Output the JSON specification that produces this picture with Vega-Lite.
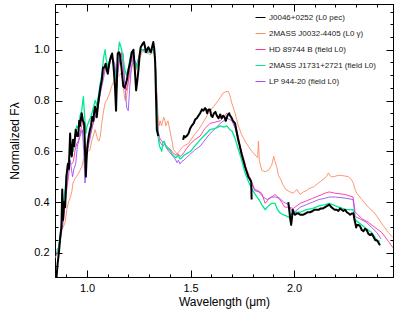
{
"$schema":"https://vega.github.io/schema/vega-lite/v6.json",
"width":338,"height":273,"autosize":"none",
"padding":{"left":55,"top":4,"right":6,"bottom":42},
"config":{"font":"Liberation Sans","view":{"stroke":"black","strokeWidth":1},"axis":{"grid":false,"domainColor":"black","tickColor":"black","labelColor":"black","titleColor":"black","titleFontWeight":"normal","labelFontSize":11,"titleFontSize":12},"legend":{"symbolStrokeWidth":1}},
"datasets":{"spec":[
{"s":"2MASS J0032-4405 (L0 γ)","seg":1,"w":0.845,"f":0.18},{"s":"2MASS J0032-4405 (L0 γ)","seg":1,"w":0.852,"f":0.19},{"s":"2MASS J0032-4405 (L0 γ)","seg":1,"w":0.86,"f":0.21},{"s":"2MASS J0032-4405 (L0 γ)","seg":1,"w":0.868,"f":0.25},{"s":"2MASS J0032-4405 (L0 γ)","seg":1,"w":0.876,"f":0.29},{"s":"2MASS J0032-4405 (L0 γ)","seg":1,"w":0.884,"f":0.3},{"s":"2MASS J0032-4405 (L0 γ)","seg":1,"w":0.894,"f":0.32},{"s":"2MASS J0032-4405 (L0 γ)","seg":1,"w":0.902,"f":0.37},{"s":"2MASS J0032-4405 (L0 γ)","seg":1,"w":0.91,"f":0.4},{"s":"2MASS J0032-4405 (L0 γ)","seg":1,"w":0.918,"f":0.415},{"s":"2MASS J0032-4405 (L0 γ)","seg":1,"w":0.926,"f":0.44},{"s":"2MASS J0032-4405 (L0 γ)","seg":1,"w":0.932,"f":0.475},{"s":"2MASS J0032-4405 (L0 γ)","seg":1,"w":0.94,"f":0.49},{"s":"2MASS J0032-4405 (L0 γ)","seg":1,"w":0.948,"f":0.5},{"s":"2MASS J0032-4405 (L0 γ)","seg":1,"w":0.957,"f":0.51},{"s":"2MASS J0032-4405 (L0 γ)","seg":1,"w":0.966,"f":0.525},{"s":"2MASS J0032-4405 (L0 γ)","seg":1,"w":0.975,"f":0.54},{"s":"2MASS J0032-4405 (L0 γ)","seg":1,"w":0.982,"f":0.565},{"s":"2MASS J0032-4405 (L0 γ)","seg":1,"w":0.99,"f":0.58},{"s":"2MASS J0032-4405 (L0 γ)","seg":1,"w":0.998,"f":0.595},{"s":"2MASS J0032-4405 (L0 γ)","seg":1,"w":1.006,"f":0.6},{"s":"2MASS J0032-4405 (L0 γ)","seg":1,"w":1.014,"f":0.605},{"s":"2MASS J0032-4405 (L0 γ)","seg":1,"w":1.022,"f":0.64},{"s":"2MASS J0032-4405 (L0 γ)","seg":1,"w":1.03,"f":0.66},{"s":"2MASS J0032-4405 (L0 γ)","seg":1,"w":1.039,"f":0.685},{"s":"2MASS J0032-4405 (L0 γ)","seg":1,"w":1.047,"f":0.66},{"s":"2MASS J0032-4405 (L0 γ)","seg":1,"w":1.053,"f":0.645},{"s":"2MASS J0032-4405 (L0 γ)","seg":1,"w":1.058,"f":0.64},{"s":"2MASS J0032-4405 (L0 γ)","seg":1,"w":1.064,"f":0.66},{"s":"2MASS J0032-4405 (L0 γ)","seg":1,"w":1.071,"f":0.71},{"s":"2MASS J0032-4405 (L0 γ)","seg":1,"w":1.08,"f":0.76},{"s":"2MASS J0032-4405 (L0 γ)","seg":1,"w":1.087,"f":0.79},{"s":"2MASS J0032-4405 (L0 γ)","seg":1,"w":1.095,"f":0.8},{"s":"2MASS J0032-4405 (L0 γ)","seg":1,"w":1.102,"f":0.815},{"s":"2MASS J0032-4405 (L0 γ)","seg":1,"w":1.11,"f":0.83},{"s":"2MASS J0032-4405 (L0 γ)","seg":1,"w":1.118,"f":0.855},{"s":"2MASS J0032-4405 (L0 γ)","seg":1,"w":1.126,"f":0.87},{"s":"2MASS J0032-4405 (L0 γ)","seg":1,"w":1.134,"f":0.88},{"s":"2MASS J0032-4405 (L0 γ)","seg":1,"w":1.142,"f":0.885},{"s":"2MASS J0032-4405 (L0 γ)","seg":1,"w":1.15,"f":0.895},{"s":"2MASS J0032-4405 (L0 γ)","seg":1,"w":1.158,"f":0.9},{"s":"2MASS J0032-4405 (L0 γ)","seg":1,"w":1.166,"f":0.91},{"s":"2MASS J0032-4405 (L0 γ)","seg":1,"w":1.172,"f":0.88},{"s":"2MASS J0032-4405 (L0 γ)","seg":1,"w":1.178,"f":0.83},{"s":"2MASS J0032-4405 (L0 γ)","seg":1,"w":1.184,"f":0.8},{"s":"2MASS J0032-4405 (L0 γ)","seg":1,"w":1.19,"f":0.81},{"s":"2MASS J0032-4405 (L0 γ)","seg":1,"w":1.198,"f":0.86},{"s":"2MASS J0032-4405 (L0 γ)","seg":1,"w":1.206,"f":0.9},{"s":"2MASS J0032-4405 (L0 γ)","seg":1,"w":1.214,"f":0.92},{"s":"2MASS J0032-4405 (L0 γ)","seg":1,"w":1.222,"f":0.95},{"s":"2MASS J0032-4405 (L0 γ)","seg":1,"w":1.23,"f":0.94},{"s":"2MASS J0032-4405 (L0 γ)","seg":1,"w":1.238,"f":0.92},{"s":"2MASS J0032-4405 (L0 γ)","seg":1,"w":1.246,"f":0.95},{"s":"2MASS J0032-4405 (L0 γ)","seg":1,"w":1.256,"f":0.97},{"s":"2MASS J0032-4405 (L0 γ)","seg":1,"w":1.266,"f":0.99},{"s":"2MASS J0032-4405 (L0 γ)","seg":1,"w":1.276,"f":0.995},{"s":"2MASS J0032-4405 (L0 γ)","seg":1,"w":1.286,"f":0.99},{"s":"2MASS J0032-4405 (L0 γ)","seg":1,"w":1.296,"f":0.985},{"s":"2MASS J0032-4405 (L0 γ)","seg":1,"w":1.306,"f":0.98},{"s":"2MASS J0032-4405 (L0 γ)","seg":1,"w":1.316,"f":0.99},{"s":"2MASS J0032-4405 (L0 γ)","seg":1,"w":1.324,"f":0.985},{"s":"2MASS J0032-4405 (L0 γ)","seg":1,"w":1.33,"f":0.95},{"s":"2MASS J0032-4405 (L0 γ)","seg":1,"w":1.336,"f":0.85},{"s":"2MASS J0032-4405 (L0 γ)","seg":1,"w":1.342,"f":0.75},{"s":"2MASS J0032-4405 (L0 γ)","seg":1,"w":1.348,"f":0.7},{"s":"2MASS J0032-4405 (L0 γ)","seg":1,"w":1.353,"f":0.72},{"s":"2MASS J0032-4405 (L0 γ)","seg":1,"w":1.36,"f":0.7},{"s":"2MASS J0032-4405 (L0 γ)","seg":1,"w":1.366,"f":0.72},{"s":"2MASS J0032-4405 (L0 γ)","seg":1,"w":1.37,"f":0.735},{"s":"2MASS J0032-4405 (L0 γ)","seg":1,"w":1.376,"f":0.72},{"s":"2MASS J0032-4405 (L0 γ)","seg":1,"w":1.381,"f":0.7},{"s":"2MASS J0032-4405 (L0 γ)","seg":1,"w":1.385,"f":0.71},{"s":"2MASS J0032-4405 (L0 γ)","seg":1,"w":1.391,"f":0.72},{"s":"2MASS J0032-4405 (L0 γ)","seg":1,"w":1.398,"f":0.69},{"s":"2MASS J0032-4405 (L0 γ)","seg":1,"w":1.405,"f":0.66},{"s":"2MASS J0032-4405 (L0 γ)","seg":1,"w":1.412,"f":0.635},{"s":"2MASS J0032-4405 (L0 γ)","seg":1,"w":1.417,"f":0.605},{"s":"2MASS J0032-4405 (L0 γ)","seg":1,"w":1.425,"f":0.6},{"s":"2MASS J0032-4405 (L0 γ)","seg":1,"w":1.433,"f":0.59},{"s":"2MASS J0032-4405 (L0 γ)","seg":1,"w":1.441,"f":0.595},{"s":"2MASS J0032-4405 (L0 γ)","seg":1,"w":1.449,"f":0.605},{"s":"2MASS J0032-4405 (L0 γ)","seg":1,"w":1.465,"f":0.62},{"s":"2MASS J0032-4405 (L0 γ)","seg":1,"w":1.489,"f":0.63},{"s":"2MASS J0032-4405 (L0 γ)","seg":1,"w":1.514,"f":0.66},{"s":"2MASS J0032-4405 (L0 γ)","seg":1,"w":1.538,"f":0.685},{"s":"2MASS J0032-4405 (L0 γ)","seg":1,"w":1.562,"f":0.715},{"s":"2MASS J0032-4405 (L0 γ)","seg":1,"w":1.586,"f":0.75},{"s":"2MASS J0032-4405 (L0 γ)","seg":1,"w":1.61,"f":0.775},{"s":"2MASS J0032-4405 (L0 γ)","seg":1,"w":1.634,"f":0.8},{"s":"2MASS J0032-4405 (L0 γ)","seg":1,"w":1.658,"f":0.83},{"s":"2MASS J0032-4405 (L0 γ)","seg":1,"w":1.67,"f":0.835},{"s":"2MASS J0032-4405 (L0 γ)","seg":1,"w":1.683,"f":0.835},{"s":"2MASS J0032-4405 (L0 γ)","seg":1,"w":1.69,"f":0.82},{"s":"2MASS J0032-4405 (L0 γ)","seg":1,"w":1.699,"f":0.79},{"s":"2MASS J0032-4405 (L0 γ)","seg":1,"w":1.715,"f":0.75},{"s":"2MASS J0032-4405 (L0 γ)","seg":1,"w":1.731,"f":0.7},{"s":"2MASS J0032-4405 (L0 γ)","seg":1,"w":1.747,"f":0.665},{"s":"2MASS J0032-4405 (L0 γ)","seg":1,"w":1.763,"f":0.64},{"s":"2MASS J0032-4405 (L0 γ)","seg":1,"w":1.779,"f":0.62},{"s":"2MASS J0032-4405 (L0 γ)","seg":1,"w":1.796,"f":0.6},{"s":"2MASS J0032-4405 (L0 γ)","seg":1,"w":1.812,"f":0.585},{"s":"2MASS J0032-4405 (L0 γ)","seg":1,"w":1.824,"f":0.575},{"s":"2MASS J0032-4405 (L0 γ)","seg":1,"w":1.828,"f":0.64},{"s":"2MASS J0032-4405 (L0 γ)","seg":1,"w":1.832,"f":0.565},{"s":"2MASS J0032-4405 (L0 γ)","seg":1,"w":1.844,"f":0.525},{"s":"2MASS J0032-4405 (L0 γ)","seg":1,"w":1.86,"f":0.52},{"s":"2MASS J0032-4405 (L0 γ)","seg":1,"w":1.876,"f":0.525},{"s":"2MASS J0032-4405 (L0 γ)","seg":1,"w":1.892,"f":0.545},{"s":"2MASS J0032-4405 (L0 γ)","seg":1,"w":1.902,"f":0.58},{"s":"2MASS J0032-4405 (L0 γ)","seg":1,"w":1.908,"f":0.56},{"s":"2MASS J0032-4405 (L0 γ)","seg":1,"w":1.916,"f":0.54},{"s":"2MASS J0032-4405 (L0 γ)","seg":1,"w":1.925,"f":0.505},{"s":"2MASS J0032-4405 (L0 γ)","seg":1,"w":1.935,"f":0.49},{"s":"2MASS J0032-4405 (L0 γ)","seg":1,"w":1.945,"f":0.47},{"s":"2MASS J0032-4405 (L0 γ)","seg":1,"w":1.96,"f":0.45},{"s":"2MASS J0032-4405 (L0 γ)","seg":1,"w":1.98,"f":0.44},{"s":"2MASS J0032-4405 (L0 γ)","seg":1,"w":1.997,"f":0.435},{"s":"2MASS J0032-4405 (L0 γ)","seg":1,"w":2.013,"f":0.45},{"s":"2MASS J0032-4405 (L0 γ)","seg":1,"w":2.029,"f":0.43},{"s":"2MASS J0032-4405 (L0 γ)","seg":1,"w":2.045,"f":0.44},{"s":"2MASS J0032-4405 (L0 γ)","seg":1,"w":2.06,"f":0.445},{"s":"2MASS J0032-4405 (L0 γ)","seg":1,"w":2.077,"f":0.455},{"s":"2MASS J0032-4405 (L0 γ)","seg":1,"w":2.094,"f":0.46},{"s":"2MASS J0032-4405 (L0 γ)","seg":1,"w":2.11,"f":0.47},{"s":"2MASS J0032-4405 (L0 γ)","seg":1,"w":2.126,"f":0.48},{"s":"2MASS J0032-4405 (L0 γ)","seg":1,"w":2.142,"f":0.49},{"s":"2MASS J0032-4405 (L0 γ)","seg":1,"w":2.156,"f":0.5},{"s":"2MASS J0032-4405 (L0 γ)","seg":1,"w":2.166,"f":0.515},{"s":"2MASS J0032-4405 (L0 γ)","seg":1,"w":2.178,"f":0.5},{"s":"2MASS J0032-4405 (L0 γ)","seg":1,"w":2.19,"f":0.5},{"s":"2MASS J0032-4405 (L0 γ)","seg":1,"w":2.214,"f":0.505},{"s":"2MASS J0032-4405 (L0 γ)","seg":1,"w":2.23,"f":0.505},{"s":"2MASS J0032-4405 (L0 γ)","seg":1,"w":2.262,"f":0.5},{"s":"2MASS J0032-4405 (L0 γ)","seg":1,"w":2.276,"f":0.49},{"s":"2MASS J0032-4405 (L0 γ)","seg":1,"w":2.286,"f":0.475},{"s":"2MASS J0032-4405 (L0 γ)","seg":1,"w":2.295,"f":0.45},{"s":"2MASS J0032-4405 (L0 γ)","seg":1,"w":2.303,"f":0.435},{"s":"2MASS J0032-4405 (L0 γ)","seg":1,"w":2.327,"f":0.41},{"s":"2MASS J0032-4405 (L0 γ)","seg":1,"w":2.359,"f":0.38},{"s":"2MASS J0032-4405 (L0 γ)","seg":1,"w":2.391,"f":0.355},{"s":"2MASS J0032-4405 (L0 γ)","seg":1,"w":2.424,"f":0.315},{"s":"2MASS J0032-4405 (L0 γ)","seg":1,"w":2.456,"f":0.28},{"s":"2MASS J0032-4405 (L0 γ)","seg":1,"w":2.478,"f":0.26},
{"s":"HD 89744 B (field L0)","seg":1,"w":0.852,"f":0.21},{"s":"HD 89744 B (field L0)","seg":1,"w":0.862,"f":0.22},{"s":"HD 89744 B (field L0)","seg":1,"w":0.87,"f":0.25},{"s":"HD 89744 B (field L0)","seg":1,"w":0.878,"f":0.29},{"s":"HD 89744 B (field L0)","seg":1,"w":0.886,"f":0.33},{"s":"HD 89744 B (field L0)","seg":1,"w":0.894,"f":0.4},{"s":"HD 89744 B (field L0)","seg":1,"w":0.902,"f":0.45},{"s":"HD 89744 B (field L0)","seg":1,"w":0.91,"f":0.5},{"s":"HD 89744 B (field L0)","seg":1,"w":0.918,"f":0.55},{"s":"HD 89744 B (field L0)","seg":1,"w":0.926,"f":0.55},{"s":"HD 89744 B (field L0)","seg":1,"w":0.934,"f":0.56},{"s":"HD 89744 B (field L0)","seg":1,"w":0.941,"f":0.6},{"s":"HD 89744 B (field L0)","seg":1,"w":0.95,"f":0.63},{"s":"HD 89744 B (field L0)","seg":1,"w":0.958,"f":0.64},{"s":"HD 89744 B (field L0)","seg":1,"w":0.966,"f":0.67},{"s":"HD 89744 B (field L0)","seg":1,"w":0.974,"f":0.7},{"s":"HD 89744 B (field L0)","seg":1,"w":0.982,"f":0.72},{"s":"HD 89744 B (field L0)","seg":1,"w":0.988,"f":0.66},{"s":"HD 89744 B (field L0)","seg":1,"w":0.994,"f":0.58},{"s":"HD 89744 B (field L0)","seg":1,"w":1.0,"f":0.62},{"s":"HD 89744 B (field L0)","seg":1,"w":1.01,"f":0.65},{"s":"HD 89744 B (field L0)","seg":1,"w":1.02,"f":0.68},{"s":"HD 89744 B (field L0)","seg":1,"w":1.03,"f":0.71},{"s":"HD 89744 B (field L0)","seg":1,"w":1.039,"f":0.74},{"s":"HD 89744 B (field L0)","seg":1,"w":1.047,"f":0.73},{"s":"HD 89744 B (field L0)","seg":1,"w":1.055,"f":0.78},{"s":"HD 89744 B (field L0)","seg":1,"w":1.064,"f":0.83},{"s":"HD 89744 B (field L0)","seg":1,"w":1.071,"f":0.87},{"s":"HD 89744 B (field L0)","seg":1,"w":1.08,"f":0.91},{"s":"HD 89744 B (field L0)","seg":1,"w":1.087,"f":0.93},{"s":"HD 89744 B (field L0)","seg":1,"w":1.095,"f":0.93},{"s":"HD 89744 B (field L0)","seg":1,"w":1.103,"f":0.92},{"s":"HD 89744 B (field L0)","seg":1,"w":1.11,"f":0.95},{"s":"HD 89744 B (field L0)","seg":1,"w":1.118,"f":0.97},{"s":"HD 89744 B (field L0)","seg":1,"w":1.126,"f":0.95},{"s":"HD 89744 B (field L0)","seg":1,"w":1.134,"f":0.92},{"s":"HD 89744 B (field L0)","seg":1,"w":1.142,"f":0.87},{"s":"HD 89744 B (field L0)","seg":1,"w":1.15,"f":0.92},{"s":"HD 89744 B (field L0)","seg":1,"w":1.158,"f":0.97},{"s":"HD 89744 B (field L0)","seg":1,"w":1.166,"f":0.99},{"s":"HD 89744 B (field L0)","seg":1,"w":1.172,"f":0.95},{"s":"HD 89744 B (field L0)","seg":1,"w":1.18,"f":0.88},{"s":"HD 89744 B (field L0)","seg":1,"w":1.19,"f":0.84},{"s":"HD 89744 B (field L0)","seg":1,"w":1.198,"f":0.87},{"s":"HD 89744 B (field L0)","seg":1,"w":1.206,"f":0.92},{"s":"HD 89744 B (field L0)","seg":1,"w":1.214,"f":0.96},{"s":"HD 89744 B (field L0)","seg":1,"w":1.222,"f":0.98},{"s":"HD 89744 B (field L0)","seg":1,"w":1.23,"f":0.95},{"s":"HD 89744 B (field L0)","seg":1,"w":1.24,"f":0.94},{"s":"HD 89744 B (field L0)","seg":1,"w":1.25,"f":0.97},{"s":"HD 89744 B (field L0)","seg":1,"w":1.26,"f":0.99},{"s":"HD 89744 B (field L0)","seg":1,"w":1.27,"f":1.0},{"s":"HD 89744 B (field L0)","seg":1,"w":1.28,"f":1.0},{"s":"HD 89744 B (field L0)","seg":1,"w":1.29,"f":0.99},{"s":"HD 89744 B (field L0)","seg":1,"w":1.3,"f":0.995},{"s":"HD 89744 B (field L0)","seg":1,"w":1.31,"f":1.0},{"s":"HD 89744 B (field L0)","seg":1,"w":1.32,"f":1.0},{"s":"HD 89744 B (field L0)","seg":1,"w":1.326,"f":0.985},{"s":"HD 89744 B (field L0)","seg":1,"w":1.331,"f":0.93},{"s":"HD 89744 B (field L0)","seg":1,"w":1.336,"f":0.82},{"s":"HD 89744 B (field L0)","seg":1,"w":1.34,"f":0.73},{"s":"HD 89744 B (field L0)","seg":1,"w":1.343,"f":0.68},{"s":"HD 89744 B (field L0)","seg":1,"w":1.35,"f":0.655},{"s":"HD 89744 B (field L0)","seg":1,"w":1.36,"f":0.64},{"s":"HD 89744 B (field L0)","seg":1,"w":1.37,"f":0.635},{"s":"HD 89744 B (field L0)","seg":1,"w":1.38,"f":0.625},{"s":"HD 89744 B (field L0)","seg":1,"w":1.39,"f":0.615},{"s":"HD 89744 B (field L0)","seg":1,"w":1.4,"f":0.61},{"s":"HD 89744 B (field L0)","seg":1,"w":1.41,"f":0.6},{"s":"HD 89744 B (field L0)","seg":1,"w":1.42,"f":0.59},{"s":"HD 89744 B (field L0)","seg":1,"w":1.43,"f":0.585},{"s":"HD 89744 B (field L0)","seg":1,"w":1.44,"f":0.59},{"s":"HD 89744 B (field L0)","seg":1,"w":1.449,"f":0.58},{"s":"HD 89744 B (field L0)","seg":1,"w":1.458,"f":0.585},{"s":"HD 89744 B (field L0)","seg":1,"w":1.468,"f":0.595},{"s":"HD 89744 B (field L0)","seg":1,"w":1.48,"f":0.61},{"s":"HD 89744 B (field L0)","seg":1,"w":1.5,"f":0.63},{"s":"HD 89744 B (field L0)","seg":1,"w":1.52,"f":0.645},{"s":"HD 89744 B (field L0)","seg":1,"w":1.546,"f":0.66},{"s":"HD 89744 B (field L0)","seg":1,"w":1.57,"f":0.69},{"s":"HD 89744 B (field L0)","seg":1,"w":1.594,"f":0.71},{"s":"HD 89744 B (field L0)","seg":1,"w":1.62,"f":0.715},{"s":"HD 89744 B (field L0)","seg":1,"w":1.643,"f":0.72},{"s":"HD 89744 B (field L0)","seg":1,"w":1.66,"f":0.735},{"s":"HD 89744 B (field L0)","seg":1,"w":1.675,"f":0.75},{"s":"HD 89744 B (field L0)","seg":1,"w":1.69,"f":0.74},{"s":"HD 89744 B (field L0)","seg":1,"w":1.7,"f":0.73},{"s":"HD 89744 B (field L0)","seg":1,"w":1.715,"f":0.7},{"s":"HD 89744 B (field L0)","seg":1,"w":1.73,"f":0.66},{"s":"HD 89744 B (field L0)","seg":1,"w":1.74,"f":0.62},{"s":"HD 89744 B (field L0)","seg":1,"w":1.755,"f":0.575},{"s":"HD 89744 B (field L0)","seg":1,"w":1.77,"f":0.53},{"s":"HD 89744 B (field L0)","seg":1,"w":1.785,"f":0.5},{"s":"HD 89744 B (field L0)","seg":1,"w":1.797,"f":0.475},{"s":"HD 89744 B (field L0)","seg":1,"w":1.81,"f":0.45},{"s":"HD 89744 B (field L0)","seg":1,"w":1.825,"f":0.445},{"s":"HD 89744 B (field L0)","seg":1,"w":1.844,"f":0.435},{"s":"HD 89744 B (field L0)","seg":1,"w":1.86,"f":0.395},{"s":"HD 89744 B (field L0)","seg":1,"w":1.876,"f":0.41},{"s":"HD 89744 B (field L0)","seg":1,"w":1.892,"f":0.42},{"s":"HD 89744 B (field L0)","seg":1,"w":1.908,"f":0.43},{"s":"HD 89744 B (field L0)","seg":1,"w":1.922,"f":0.42},{"s":"HD 89744 B (field L0)","seg":1,"w":1.94,"f":0.4},{"s":"HD 89744 B (field L0)","seg":1,"w":1.955,"f":0.38},{"s":"HD 89744 B (field L0)","seg":1,"w":1.972,"f":0.38},{"s":"HD 89744 B (field L0)","seg":1,"w":1.997,"f":0.375},{"s":"HD 89744 B (field L0)","seg":1,"w":2.029,"f":0.395},{"s":"HD 89744 B (field L0)","seg":1,"w":2.06,"f":0.405},{"s":"HD 89744 B (field L0)","seg":1,"w":2.09,"f":0.415},{"s":"HD 89744 B (field L0)","seg":1,"w":2.12,"f":0.425},{"s":"HD 89744 B (field L0)","seg":1,"w":2.15,"f":0.435},{"s":"HD 89744 B (field L0)","seg":1,"w":2.17,"f":0.44},{"s":"HD 89744 B (field L0)","seg":1,"w":2.198,"f":0.435},{"s":"HD 89744 B (field L0)","seg":1,"w":2.246,"f":0.43},{"s":"HD 89744 B (field L0)","seg":1,"w":2.285,"f":0.42},{"s":"HD 89744 B (field L0)","seg":1,"w":2.295,"f":0.36},{"s":"HD 89744 B (field L0)","seg":1,"w":2.303,"f":0.355},{"s":"HD 89744 B (field L0)","seg":1,"w":2.327,"f":0.335},{"s":"HD 89744 B (field L0)","seg":1,"w":2.359,"f":0.32},{"s":"HD 89744 B (field L0)","seg":1,"w":2.391,"f":0.3},{"s":"HD 89744 B (field L0)","seg":1,"w":2.424,"f":0.28},{"s":"HD 89744 B (field L0)","seg":1,"w":2.456,"f":0.245},{"s":"HD 89744 B (field L0)","seg":1,"w":2.478,"f":0.22},
{"s":"LP 944-20 (field L0)","seg":1,"w":0.852,"f":0.19},{"s":"LP 944-20 (field L0)","seg":1,"w":0.862,"f":0.22},{"s":"LP 944-20 (field L0)","seg":1,"w":0.87,"f":0.24},{"s":"LP 944-20 (field L0)","seg":1,"w":0.878,"f":0.3},{"s":"LP 944-20 (field L0)","seg":1,"w":0.886,"f":0.34},{"s":"LP 944-20 (field L0)","seg":1,"w":0.894,"f":0.42},{"s":"LP 944-20 (field L0)","seg":1,"w":0.902,"f":0.47},{"s":"LP 944-20 (field L0)","seg":1,"w":0.91,"f":0.53},{"s":"LP 944-20 (field L0)","seg":1,"w":0.918,"f":0.565},{"s":"LP 944-20 (field L0)","seg":1,"w":0.926,"f":0.52},{"s":"LP 944-20 (field L0)","seg":1,"w":0.93,"f":0.5},{"s":"LP 944-20 (field L0)","seg":1,"w":0.936,"f":0.53},{"s":"LP 944-20 (field L0)","seg":1,"w":0.945,"f":0.55},{"s":"LP 944-20 (field L0)","seg":1,"w":0.953,"f":0.62},{"s":"LP 944-20 (field L0)","seg":1,"w":0.966,"f":0.66},{"s":"LP 944-20 (field L0)","seg":1,"w":0.977,"f":0.685},{"s":"LP 944-20 (field L0)","seg":1,"w":0.984,"f":0.6},{"s":"LP 944-20 (field L0)","seg":1,"w":0.99,"f":0.475},{"s":"LP 944-20 (field L0)","seg":1,"w":0.996,"f":0.55},{"s":"LP 944-20 (field L0)","seg":1,"w":1.003,"f":0.61},{"s":"LP 944-20 (field L0)","seg":1,"w":1.012,"f":0.64},{"s":"LP 944-20 (field L0)","seg":1,"w":1.025,"f":0.7},{"s":"LP 944-20 (field L0)","seg":1,"w":1.039,"f":0.735},{"s":"LP 944-20 (field L0)","seg":1,"w":1.047,"f":0.75},{"s":"LP 944-20 (field L0)","seg":1,"w":1.055,"f":0.79},{"s":"LP 944-20 (field L0)","seg":1,"w":1.064,"f":0.83},{"s":"LP 944-20 (field L0)","seg":1,"w":1.071,"f":0.855},{"s":"LP 944-20 (field L0)","seg":1,"w":1.08,"f":0.89},{"s":"LP 944-20 (field L0)","seg":1,"w":1.087,"f":0.92},{"s":"LP 944-20 (field L0)","seg":1,"w":1.095,"f":0.935},{"s":"LP 944-20 (field L0)","seg":1,"w":1.103,"f":0.945},{"s":"LP 944-20 (field L0)","seg":1,"w":1.11,"f":0.96},{"s":"LP 944-20 (field L0)","seg":1,"w":1.118,"f":0.975},{"s":"LP 944-20 (field L0)","seg":1,"w":1.126,"f":0.96},{"s":"LP 944-20 (field L0)","seg":1,"w":1.134,"f":0.945},{"s":"LP 944-20 (field L0)","seg":1,"w":1.14,"f":0.9},{"s":"LP 944-20 (field L0)","seg":1,"w":1.144,"f":0.85},{"s":"LP 944-20 (field L0)","seg":1,"w":1.15,"f":0.93},{"s":"LP 944-20 (field L0)","seg":1,"w":1.158,"f":0.96},{"s":"LP 944-20 (field L0)","seg":1,"w":1.166,"f":0.975},{"s":"LP 944-20 (field L0)","seg":1,"w":1.174,"f":0.985},{"s":"LP 944-20 (field L0)","seg":1,"w":1.18,"f":0.9},{"s":"LP 944-20 (field L0)","seg":1,"w":1.186,"f":0.82},{"s":"LP 944-20 (field L0)","seg":1,"w":1.192,"f":0.77},{"s":"LP 944-20 (field L0)","seg":1,"w":1.199,"f":0.76},{"s":"LP 944-20 (field L0)","seg":1,"w":1.206,"f":0.85},{"s":"LP 944-20 (field L0)","seg":1,"w":1.214,"f":0.93},{"s":"LP 944-20 (field L0)","seg":1,"w":1.222,"f":0.97},{"s":"LP 944-20 (field L0)","seg":1,"w":1.23,"f":0.96},{"s":"LP 944-20 (field L0)","seg":1,"w":1.24,"f":0.94},{"s":"LP 944-20 (field L0)","seg":1,"w":1.25,"f":0.97},{"s":"LP 944-20 (field L0)","seg":1,"w":1.26,"f":1.0},{"s":"LP 944-20 (field L0)","seg":1,"w":1.27,"f":1.0},{"s":"LP 944-20 (field L0)","seg":1,"w":1.28,"f":1.0},{"s":"LP 944-20 (field L0)","seg":1,"w":1.29,"f":0.995},{"s":"LP 944-20 (field L0)","seg":1,"w":1.3,"f":0.99},{"s":"LP 944-20 (field L0)","seg":1,"w":1.31,"f":1.0},{"s":"LP 944-20 (field L0)","seg":1,"w":1.32,"f":1.0},{"s":"LP 944-20 (field L0)","seg":1,"w":1.326,"f":0.985},{"s":"LP 944-20 (field L0)","seg":1,"w":1.331,"f":0.93},{"s":"LP 944-20 (field L0)","seg":1,"w":1.336,"f":0.82},{"s":"LP 944-20 (field L0)","seg":1,"w":1.34,"f":0.73},{"s":"LP 944-20 (field L0)","seg":1,"w":1.343,"f":0.68},{"s":"LP 944-20 (field L0)","seg":1,"w":1.35,"f":0.64},{"s":"LP 944-20 (field L0)","seg":1,"w":1.358,"f":0.63},{"s":"LP 944-20 (field L0)","seg":1,"w":1.366,"f":0.62},{"s":"LP 944-20 (field L0)","seg":1,"w":1.375,"f":0.63},{"s":"LP 944-20 (field L0)","seg":1,"w":1.385,"f":0.61},{"s":"LP 944-20 (field L0)","seg":1,"w":1.395,"f":0.6},{"s":"LP 944-20 (field L0)","seg":1,"w":1.405,"f":0.59},{"s":"LP 944-20 (field L0)","seg":1,"w":1.415,"f":0.58},{"s":"LP 944-20 (field L0)","seg":1,"w":1.425,"f":0.57},{"s":"LP 944-20 (field L0)","seg":1,"w":1.435,"f":0.555},{"s":"LP 944-20 (field L0)","seg":1,"w":1.441,"f":0.565},{"s":"LP 944-20 (field L0)","seg":1,"w":1.449,"f":0.55},{"s":"LP 944-20 (field L0)","seg":1,"w":1.458,"f":0.56},{"s":"LP 944-20 (field L0)","seg":1,"w":1.468,"f":0.565},{"s":"LP 944-20 (field L0)","seg":1,"w":1.48,"f":0.575},{"s":"LP 944-20 (field L0)","seg":1,"w":1.5,"f":0.59},{"s":"LP 944-20 (field L0)","seg":1,"w":1.52,"f":0.605},{"s":"LP 944-20 (field L0)","seg":1,"w":1.546,"f":0.62},{"s":"LP 944-20 (field L0)","seg":1,"w":1.57,"f":0.645},{"s":"LP 944-20 (field L0)","seg":1,"w":1.594,"f":0.67},{"s":"LP 944-20 (field L0)","seg":1,"w":1.62,"f":0.69},{"s":"LP 944-20 (field L0)","seg":1,"w":1.643,"f":0.71},{"s":"LP 944-20 (field L0)","seg":1,"w":1.66,"f":0.72},{"s":"LP 944-20 (field L0)","seg":1,"w":1.675,"f":0.73},{"s":"LP 944-20 (field L0)","seg":1,"w":1.69,"f":0.725},{"s":"LP 944-20 (field L0)","seg":1,"w":1.7,"f":0.72},{"s":"LP 944-20 (field L0)","seg":1,"w":1.715,"f":0.69},{"s":"LP 944-20 (field L0)","seg":1,"w":1.73,"f":0.65},{"s":"LP 944-20 (field L0)","seg":1,"w":1.74,"f":0.61},{"s":"LP 944-20 (field L0)","seg":1,"w":1.755,"f":0.565},{"s":"LP 944-20 (field L0)","seg":1,"w":1.77,"f":0.52},{"s":"LP 944-20 (field L0)","seg":1,"w":1.785,"f":0.49},{"s":"LP 944-20 (field L0)","seg":1,"w":1.797,"f":0.47},{"s":"LP 944-20 (field L0)","seg":1,"w":1.81,"f":0.445},{"s":"LP 944-20 (field L0)","seg":1,"w":1.83,"f":0.44},{"s":"LP 944-20 (field L0)","seg":1,"w":1.85,"f":0.42},{"s":"LP 944-20 (field L0)","seg":1,"w":1.87,"f":0.41},{"s":"LP 944-20 (field L0)","seg":1,"w":1.89,"f":0.42},{"s":"LP 944-20 (field L0)","seg":1,"w":1.91,"f":0.42},{"s":"LP 944-20 (field L0)","seg":1,"w":1.93,"f":0.415},{"s":"LP 944-20 (field L0)","seg":1,"w":1.95,"f":0.4},{"s":"LP 944-20 (field L0)","seg":1,"w":1.972,"f":0.39},{"s":"LP 944-20 (field L0)","seg":1,"w":1.99,"f":0.365},{"s":"LP 944-20 (field L0)","seg":1,"w":2.0,"f":0.36},{"s":"LP 944-20 (field L0)","seg":1,"w":2.03,"f":0.38},{"s":"LP 944-20 (field L0)","seg":1,"w":2.06,"f":0.39},{"s":"LP 944-20 (field L0)","seg":1,"w":2.09,"f":0.4},{"s":"LP 944-20 (field L0)","seg":1,"w":2.12,"f":0.41},{"s":"LP 944-20 (field L0)","seg":1,"w":2.15,"f":0.415},{"s":"LP 944-20 (field L0)","seg":1,"w":2.17,"f":0.42},{"s":"LP 944-20 (field L0)","seg":1,"w":2.2,"f":0.42},{"s":"LP 944-20 (field L0)","seg":1,"w":2.25,"f":0.415},{"s":"LP 944-20 (field L0)","seg":1,"w":2.285,"f":0.41},{"s":"LP 944-20 (field L0)","seg":1,"w":2.295,"f":0.345},{"s":"LP 944-20 (field L0)","seg":1,"w":2.303,"f":0.34},{"s":"LP 944-20 (field L0)","seg":1,"w":2.327,"f":0.33},{"s":"LP 944-20 (field L0)","seg":1,"w":2.35,"f":0.32},{"s":"LP 944-20 (field L0)","seg":1,"w":2.375,"f":0.3},{"s":"LP 944-20 (field L0)","seg":1,"w":2.4,"f":0.28},{"s":"LP 944-20 (field L0)","seg":1,"w":2.42,"f":0.255},
{"s":"2MASS J1731+2721 (field L0)","seg":1,"w":0.852,"f":0.2},{"s":"2MASS J1731+2721 (field L0)","seg":1,"w":0.862,"f":0.22},{"s":"2MASS J1731+2721 (field L0)","seg":1,"w":0.87,"f":0.27},{"s":"2MASS J1731+2721 (field L0)","seg":1,"w":0.878,"f":0.33},{"s":"2MASS J1731+2721 (field L0)","seg":1,"w":0.886,"f":0.4},{"s":"2MASS J1731+2721 (field L0)","seg":1,"w":0.894,"f":0.45},{"s":"2MASS J1731+2721 (field L0)","seg":1,"w":0.902,"f":0.52},{"s":"2MASS J1731+2721 (field L0)","seg":1,"w":0.91,"f":0.56},{"s":"2MASS J1731+2721 (field L0)","seg":1,"w":0.918,"f":0.6},{"s":"2MASS J1731+2721 (field L0)","seg":1,"w":0.926,"f":0.62},{"s":"2MASS J1731+2721 (field L0)","seg":1,"w":0.934,"f":0.6},{"s":"2MASS J1731+2721 (field L0)","seg":1,"w":0.941,"f":0.66},{"s":"2MASS J1731+2721 (field L0)","seg":1,"w":0.95,"f":0.7},{"s":"2MASS J1731+2721 (field L0)","seg":1,"w":0.958,"f":0.69},{"s":"2MASS J1731+2721 (field L0)","seg":1,"w":0.966,"f":0.74},{"s":"2MASS J1731+2721 (field L0)","seg":1,"w":0.974,"f":0.76},{"s":"2MASS J1731+2721 (field L0)","seg":1,"w":0.982,"f":0.815},{"s":"2MASS J1731+2721 (field L0)","seg":1,"w":0.988,"f":0.74},{"s":"2MASS J1731+2721 (field L0)","seg":1,"w":0.994,"f":0.67},{"s":"2MASS J1731+2721 (field L0)","seg":1,"w":1.0,"f":0.7},{"s":"2MASS J1731+2721 (field L0)","seg":1,"w":1.01,"f":0.72},{"s":"2MASS J1731+2721 (field L0)","seg":1,"w":1.02,"f":0.74},{"s":"2MASS J1731+2721 (field L0)","seg":1,"w":1.03,"f":0.77},{"s":"2MASS J1731+2721 (field L0)","seg":1,"w":1.039,"f":0.8},{"s":"2MASS J1731+2721 (field L0)","seg":1,"w":1.047,"f":0.78},{"s":"2MASS J1731+2721 (field L0)","seg":1,"w":1.055,"f":0.82},{"s":"2MASS J1731+2721 (field L0)","seg":1,"w":1.064,"f":0.87},{"s":"2MASS J1731+2721 (field L0)","seg":1,"w":1.071,"f":0.9},{"s":"2MASS J1731+2721 (field L0)","seg":1,"w":1.08,"f":0.97},{"s":"2MASS J1731+2721 (field L0)","seg":1,"w":1.087,"f":1.0},{"s":"2MASS J1731+2721 (field L0)","seg":1,"w":1.093,"f":0.96},{"s":"2MASS J1731+2721 (field L0)","seg":1,"w":1.1,"f":0.93},{"s":"2MASS J1731+2721 (field L0)","seg":1,"w":1.11,"f":0.96},{"s":"2MASS J1731+2721 (field L0)","seg":1,"w":1.118,"f":0.98},{"s":"2MASS J1731+2721 (field L0)","seg":1,"w":1.126,"f":0.95},{"s":"2MASS J1731+2721 (field L0)","seg":1,"w":1.134,"f":0.91},{"s":"2MASS J1731+2721 (field L0)","seg":1,"w":1.142,"f":0.88},{"s":"2MASS J1731+2721 (field L0)","seg":1,"w":1.15,"f":0.98},{"s":"2MASS J1731+2721 (field L0)","seg":1,"w":1.156,"f":1.03},{"s":"2MASS J1731+2721 (field L0)","seg":1,"w":1.164,"f":1.01},{"s":"2MASS J1731+2721 (field L0)","seg":1,"w":1.172,"f":0.98},{"s":"2MASS J1731+2721 (field L0)","seg":1,"w":1.18,"f":0.93},{"s":"2MASS J1731+2721 (field L0)","seg":1,"w":1.19,"f":0.9},{"s":"2MASS J1731+2721 (field L0)","seg":1,"w":1.198,"f":0.92},{"s":"2MASS J1731+2721 (field L0)","seg":1,"w":1.206,"f":0.96},{"s":"2MASS J1731+2721 (field L0)","seg":1,"w":1.214,"f":0.99},{"s":"2MASS J1731+2721 (field L0)","seg":1,"w":1.222,"f":0.99},{"s":"2MASS J1731+2721 (field L0)","seg":1,"w":1.23,"f":0.95},{"s":"2MASS J1731+2721 (field L0)","seg":1,"w":1.24,"f":0.93},{"s":"2MASS J1731+2721 (field L0)","seg":1,"w":1.25,"f":0.97},{"s":"2MASS J1731+2721 (field L0)","seg":1,"w":1.26,"f":1.0},{"s":"2MASS J1731+2721 (field L0)","seg":1,"w":1.27,"f":1.0},{"s":"2MASS J1731+2721 (field L0)","seg":1,"w":1.28,"f":0.99},{"s":"2MASS J1731+2721 (field L0)","seg":1,"w":1.29,"f":1.0},{"s":"2MASS J1731+2721 (field L0)","seg":1,"w":1.3,"f":0.99},{"s":"2MASS J1731+2721 (field L0)","seg":1,"w":1.31,"f":0.995},{"s":"2MASS J1731+2721 (field L0)","seg":1,"w":1.32,"f":1.0},{"s":"2MASS J1731+2721 (field L0)","seg":1,"w":1.326,"f":0.98},{"s":"2MASS J1731+2721 (field L0)","seg":1,"w":1.331,"f":0.92},{"s":"2MASS J1731+2721 (field L0)","seg":1,"w":1.336,"f":0.8},{"s":"2MASS J1731+2721 (field L0)","seg":1,"w":1.34,"f":0.7},{"s":"2MASS J1731+2721 (field L0)","seg":1,"w":1.343,"f":0.66},{"s":"2MASS J1731+2721 (field L0)","seg":1,"w":1.35,"f":0.62},{"s":"2MASS J1731+2721 (field L0)","seg":1,"w":1.356,"f":0.61},{"s":"2MASS J1731+2721 (field L0)","seg":1,"w":1.361,"f":0.6},{"s":"2MASS J1731+2721 (field L0)","seg":1,"w":1.366,"f":0.635},{"s":"2MASS J1731+2721 (field L0)","seg":1,"w":1.372,"f":0.64},{"s":"2MASS J1731+2721 (field L0)","seg":1,"w":1.38,"f":0.62},{"s":"2MASS J1731+2721 (field L0)","seg":1,"w":1.39,"f":0.61},{"s":"2MASS J1731+2721 (field L0)","seg":1,"w":1.4,"f":0.605},{"s":"2MASS J1731+2721 (field L0)","seg":1,"w":1.41,"f":0.59},{"s":"2MASS J1731+2721 (field L0)","seg":1,"w":1.42,"f":0.58},{"s":"2MASS J1731+2721 (field L0)","seg":1,"w":1.43,"f":0.575},{"s":"2MASS J1731+2721 (field L0)","seg":1,"w":1.44,"f":0.585},{"s":"2MASS J1731+2721 (field L0)","seg":1,"w":1.449,"f":0.57},{"s":"2MASS J1731+2721 (field L0)","seg":1,"w":1.458,"f":0.575},{"s":"2MASS J1731+2721 (field L0)","seg":1,"w":1.468,"f":0.585},{"s":"2MASS J1731+2721 (field L0)","seg":1,"w":1.48,"f":0.59},{"s":"2MASS J1731+2721 (field L0)","seg":1,"w":1.5,"f":0.6},{"s":"2MASS J1731+2721 (field L0)","seg":1,"w":1.52,"f":0.62},{"s":"2MASS J1731+2721 (field L0)","seg":1,"w":1.546,"f":0.645},{"s":"2MASS J1731+2721 (field L0)","seg":1,"w":1.57,"f":0.665},{"s":"2MASS J1731+2721 (field L0)","seg":1,"w":1.594,"f":0.685},{"s":"2MASS J1731+2721 (field L0)","seg":1,"w":1.62,"f":0.69},{"s":"2MASS J1731+2721 (field L0)","seg":1,"w":1.643,"f":0.7},{"s":"2MASS J1731+2721 (field L0)","seg":1,"w":1.66,"f":0.695},{"s":"2MASS J1731+2721 (field L0)","seg":1,"w":1.675,"f":0.7},{"s":"2MASS J1731+2721 (field L0)","seg":1,"w":1.69,"f":0.685},{"s":"2MASS J1731+2721 (field L0)","seg":1,"w":1.7,"f":0.68},{"s":"2MASS J1731+2721 (field L0)","seg":1,"w":1.715,"f":0.65},{"s":"2MASS J1731+2721 (field L0)","seg":1,"w":1.73,"f":0.61},{"s":"2MASS J1731+2721 (field L0)","seg":1,"w":1.745,"f":0.57},{"s":"2MASS J1731+2721 (field L0)","seg":1,"w":1.763,"f":0.515},{"s":"2MASS J1731+2721 (field L0)","seg":1,"w":1.78,"f":0.48},{"s":"2MASS J1731+2721 (field L0)","seg":1,"w":1.797,"f":0.45},{"s":"2MASS J1731+2721 (field L0)","seg":1,"w":1.805,"f":0.44},{"s":"2MASS J1731+2721 (field L0)","seg":1,"w":1.812,"f":0.43},{"s":"2MASS J1731+2721 (field L0)","seg":1,"w":1.83,"f":0.41},{"s":"2MASS J1731+2721 (field L0)","seg":1,"w":1.844,"f":0.39},{"s":"2MASS J1731+2721 (field L0)","seg":1,"w":1.86,"f":0.37},{"s":"2MASS J1731+2721 (field L0)","seg":1,"w":1.876,"f":0.385},{"s":"2MASS J1731+2721 (field L0)","seg":1,"w":1.892,"f":0.395},{"s":"2MASS J1731+2721 (field L0)","seg":1,"w":1.908,"f":0.395},{"s":"2MASS J1731+2721 (field L0)","seg":1,"w":1.92,"f":0.37},{"s":"2MASS J1731+2721 (field L0)","seg":1,"w":1.935,"f":0.355},{"s":"2MASS J1731+2721 (field L0)","seg":1,"w":1.95,"f":0.35},{"s":"2MASS J1731+2721 (field L0)","seg":1,"w":1.965,"f":0.345},{"s":"2MASS J1731+2721 (field L0)","seg":1,"w":1.972,"f":0.34},{"s":"2MASS J1731+2721 (field L0)","seg":1,"w":1.99,"f":0.355},{"s":"2MASS J1731+2721 (field L0)","seg":1,"w":2.005,"f":0.36},{"s":"2MASS J1731+2721 (field L0)","seg":1,"w":2.03,"f":0.36},{"s":"2MASS J1731+2721 (field L0)","seg":1,"w":2.06,"f":0.37},{"s":"2MASS J1731+2721 (field L0)","seg":1,"w":2.09,"f":0.375},{"s":"2MASS J1731+2721 (field L0)","seg":1,"w":2.12,"f":0.385},{"s":"2MASS J1731+2721 (field L0)","seg":1,"w":2.15,"f":0.39},{"s":"2MASS J1731+2721 (field L0)","seg":1,"w":2.17,"f":0.395},{"s":"2MASS J1731+2721 (field L0)","seg":1,"w":2.2,"f":0.385},{"s":"2MASS J1731+2721 (field L0)","seg":1,"w":2.25,"f":0.37},{"s":"2MASS J1731+2721 (field L0)","seg":1,"w":2.285,"f":0.37},{"s":"2MASS J1731+2721 (field L0)","seg":1,"w":2.295,"f":0.33},{"s":"2MASS J1731+2721 (field L0)","seg":1,"w":2.303,"f":0.325},{"s":"2MASS J1731+2721 (field L0)","seg":1,"w":2.327,"f":0.31},{"s":"2MASS J1731+2721 (field L0)","seg":1,"w":2.35,"f":0.295},{"s":"2MASS J1731+2721 (field L0)","seg":1,"w":2.375,"f":0.28},{"s":"2MASS J1731+2721 (field L0)","seg":1,"w":2.4,"f":0.25},{"s":"2MASS J1731+2721 (field L0)","seg":1,"w":2.415,"f":0.245},
{"s":"J0046+0252 (L0 pec)","seg":1,"w":0.852,"f":0.1},{"s":"J0046+0252 (L0 pec)","seg":1,"w":0.858,"f":0.16},{"s":"J0046+0252 (L0 pec)","seg":1,"w":0.865,"f":0.21},{"s":"J0046+0252 (L0 pec)","seg":1,"w":0.87,"f":0.26},{"s":"J0046+0252 (L0 pec)","seg":1,"w":0.876,"f":0.3},{"s":"J0046+0252 (L0 pec)","seg":1,"w":0.88,"f":0.45},{"s":"J0046+0252 (L0 pec)","seg":1,"w":0.884,"f":0.33},{"s":"J0046+0252 (L0 pec)","seg":1,"w":0.889,"f":0.4},{"s":"J0046+0252 (L0 pec)","seg":1,"w":0.894,"f":0.38},{"s":"J0046+0252 (L0 pec)","seg":1,"w":0.9,"f":0.5},{"s":"J0046+0252 (L0 pec)","seg":1,"w":0.907,"f":0.55},{"s":"J0046+0252 (L0 pec)","seg":1,"w":0.912,"f":0.53},{"s":"J0046+0252 (L0 pec)","seg":1,"w":0.918,"f":0.67},{"s":"J0046+0252 (L0 pec)","seg":1,"w":0.922,"f":0.6},{"s":"J0046+0252 (L0 pec)","seg":1,"w":0.926,"f":0.58},{"s":"J0046+0252 (L0 pec)","seg":1,"w":0.932,"f":0.645},{"s":"J0046+0252 (L0 pec)","seg":1,"w":0.938,"f":0.62},{"s":"J0046+0252 (L0 pec)","seg":1,"w":0.945,"f":0.685},{"s":"J0046+0252 (L0 pec)","seg":1,"w":0.951,"f":0.66},{"s":"J0046+0252 (L0 pec)","seg":1,"w":0.957,"f":0.66},{"s":"J0046+0252 (L0 pec)","seg":1,"w":0.962,"f":0.72},{"s":"J0046+0252 (L0 pec)","seg":1,"w":0.966,"f":0.7},{"s":"J0046+0252 (L0 pec)","seg":1,"w":0.974,"f":0.75},{"s":"J0046+0252 (L0 pec)","seg":1,"w":0.98,"f":0.72},{"s":"J0046+0252 (L0 pec)","seg":1,"w":0.986,"f":0.71},{"s":"J0046+0252 (L0 pec)","seg":1,"w":0.99,"f":0.6},{"s":"J0046+0252 (L0 pec)","seg":1,"w":0.994,"f":0.5},{"s":"J0046+0252 (L0 pec)","seg":1,"w":0.998,"f":0.58},{"s":"J0046+0252 (L0 pec)","seg":1,"w":1.003,"f":0.63},{"s":"J0046+0252 (L0 pec)","seg":1,"w":1.008,"f":0.66},{"s":"J0046+0252 (L0 pec)","seg":1,"w":1.014,"f":0.685},{"s":"J0046+0252 (L0 pec)","seg":1,"w":1.019,"f":0.7},{"s":"J0046+0252 (L0 pec)","seg":1,"w":1.024,"f":0.735},{"s":"J0046+0252 (L0 pec)","seg":1,"w":1.03,"f":0.72},{"s":"J0046+0252 (L0 pec)","seg":1,"w":1.035,"f":0.76},{"s":"J0046+0252 (L0 pec)","seg":1,"w":1.039,"f":0.775},{"s":"J0046+0252 (L0 pec)","seg":1,"w":1.043,"f":0.76},{"s":"J0046+0252 (L0 pec)","seg":1,"w":1.047,"f":0.735},{"s":"J0046+0252 (L0 pec)","seg":1,"w":1.052,"f":0.78},{"s":"J0046+0252 (L0 pec)","seg":1,"w":1.058,"f":0.815},{"s":"J0046+0252 (L0 pec)","seg":1,"w":1.064,"f":0.85},{"s":"J0046+0252 (L0 pec)","seg":1,"w":1.071,"f":0.88},{"s":"J0046+0252 (L0 pec)","seg":1,"w":1.077,"f":0.93},{"s":"J0046+0252 (L0 pec)","seg":1,"w":1.084,"f":0.93},{"s":"J0046+0252 (L0 pec)","seg":1,"w":1.09,"f":0.945},{"s":"J0046+0252 (L0 pec)","seg":1,"w":1.095,"f":0.92},{"s":"J0046+0252 (L0 pec)","seg":1,"w":1.1,"f":0.905},{"s":"J0046+0252 (L0 pec)","seg":1,"w":1.106,"f":0.94},{"s":"J0046+0252 (L0 pec)","seg":1,"w":1.111,"f":0.96},{"s":"J0046+0252 (L0 pec)","seg":1,"w":1.116,"f":0.975},{"s":"J0046+0252 (L0 pec)","seg":1,"w":1.121,"f":0.985},{"s":"J0046+0252 (L0 pec)","seg":1,"w":1.126,"f":0.95},{"s":"J0046+0252 (L0 pec)","seg":1,"w":1.13,"f":0.91},{"s":"J0046+0252 (L0 pec)","seg":1,"w":1.135,"f":0.85},{"s":"J0046+0252 (L0 pec)","seg":1,"w":1.14,"f":0.76},{"s":"J0046+0252 (L0 pec)","seg":1,"w":1.144,"f":0.88},{"s":"J0046+0252 (L0 pec)","seg":1,"w":1.148,"f":0.985},{"s":"J0046+0252 (L0 pec)","seg":1,"w":1.154,"f":0.99},{"s":"J0046+0252 (L0 pec)","seg":1,"w":1.159,"f":0.98},{"s":"J0046+0252 (L0 pec)","seg":1,"w":1.166,"f":0.93},{"s":"J0046+0252 (L0 pec)","seg":1,"w":1.175,"f":0.855},{"s":"J0046+0252 (L0 pec)","seg":1,"w":1.182,"f":0.85},{"s":"J0046+0252 (L0 pec)","seg":1,"w":1.192,"f":0.88},{"s":"J0046+0252 (L0 pec)","seg":1,"w":1.2,"f":0.92},{"s":"J0046+0252 (L0 pec)","seg":1,"w":1.208,"f":0.95},{"s":"J0046+0252 (L0 pec)","seg":1,"w":1.216,"f":0.99},{"s":"J0046+0252 (L0 pec)","seg":1,"w":1.224,"f":1.0},{"s":"J0046+0252 (L0 pec)","seg":1,"w":1.23,"f":0.93},{"s":"J0046+0252 (L0 pec)","seg":1,"w":1.237,"f":0.84},{"s":"J0046+0252 (L0 pec)","seg":1,"w":1.243,"f":0.88},{"s":"J0046+0252 (L0 pec)","seg":1,"w":1.248,"f":0.92},{"s":"J0046+0252 (L0 pec)","seg":1,"w":1.254,"f":0.98},{"s":"J0046+0252 (L0 pec)","seg":1,"w":1.259,"f":1.01},{"s":"J0046+0252 (L0 pec)","seg":1,"w":1.266,"f":1.02},{"s":"J0046+0252 (L0 pec)","seg":1,"w":1.275,"f":1.03},{"s":"J0046+0252 (L0 pec)","seg":1,"w":1.28,"f":1.01},{"s":"J0046+0252 (L0 pec)","seg":1,"w":1.285,"f":0.99},{"s":"J0046+0252 (L0 pec)","seg":1,"w":1.29,"f":1.0},{"s":"J0046+0252 (L0 pec)","seg":1,"w":1.296,"f":1.01},{"s":"J0046+0252 (L0 pec)","seg":1,"w":1.302,"f":1.0},{"s":"J0046+0252 (L0 pec)","seg":1,"w":1.308,"f":0.99},{"s":"J0046+0252 (L0 pec)","seg":1,"w":1.314,"f":1.01},{"s":"J0046+0252 (L0 pec)","seg":1,"w":1.32,"f":1.03},{"s":"J0046+0252 (L0 pec)","seg":1,"w":1.325,"f":1.0},{"s":"J0046+0252 (L0 pec)","seg":1,"w":1.329,"f":0.95},{"s":"J0046+0252 (L0 pec)","seg":1,"w":1.333,"f":0.815},{"s":"J0046+0252 (L0 pec)","seg":1,"w":1.337,"f":0.685},{"s":"J0046+0252 (L0 pec)","seg":1,"w":1.344,"f":0.66},
{"s":"J0046+0252 (L0 pec)","seg":2,"w":1.464,"f":0.645},{"s":"J0046+0252 (L0 pec)","seg":2,"w":1.468,"f":0.66},{"s":"J0046+0252 (L0 pec)","seg":2,"w":1.474,"f":0.655},{"s":"J0046+0252 (L0 pec)","seg":2,"w":1.481,"f":0.66},{"s":"J0046+0252 (L0 pec)","seg":2,"w":1.49,"f":0.67},{"s":"J0046+0252 (L0 pec)","seg":2,"w":1.498,"f":0.69},{"s":"J0046+0252 (L0 pec)","seg":2,"w":1.505,"f":0.7},{"s":"J0046+0252 (L0 pec)","seg":2,"w":1.515,"f":0.71},{"s":"J0046+0252 (L0 pec)","seg":2,"w":1.522,"f":0.725},{"s":"J0046+0252 (L0 pec)","seg":2,"w":1.53,"f":0.73},{"s":"J0046+0252 (L0 pec)","seg":2,"w":1.538,"f":0.74},{"s":"J0046+0252 (L0 pec)","seg":2,"w":1.546,"f":0.75},{"s":"J0046+0252 (L0 pec)","seg":2,"w":1.555,"f":0.765},{"s":"J0046+0252 (L0 pec)","seg":2,"w":1.562,"f":0.76},{"s":"J0046+0252 (L0 pec)","seg":2,"w":1.57,"f":0.77},{"s":"J0046+0252 (L0 pec)","seg":2,"w":1.575,"f":0.765},{"s":"J0046+0252 (L0 pec)","seg":2,"w":1.58,"f":0.75},{"s":"J0046+0252 (L0 pec)","seg":2,"w":1.587,"f":0.765},{"s":"J0046+0252 (L0 pec)","seg":2,"w":1.594,"f":0.765},{"s":"J0046+0252 (L0 pec)","seg":2,"w":1.6,"f":0.74},{"s":"J0046+0252 (L0 pec)","seg":2,"w":1.606,"f":0.735},{"s":"J0046+0252 (L0 pec)","seg":2,"w":1.613,"f":0.75},{"s":"J0046+0252 (L0 pec)","seg":2,"w":1.62,"f":0.755},{"s":"J0046+0252 (L0 pec)","seg":2,"w":1.627,"f":0.74},{"s":"J0046+0252 (L0 pec)","seg":2,"w":1.635,"f":0.73},{"s":"J0046+0252 (L0 pec)","seg":2,"w":1.643,"f":0.745},{"s":"J0046+0252 (L0 pec)","seg":2,"w":1.65,"f":0.73},{"s":"J0046+0252 (L0 pec)","seg":2,"w":1.657,"f":0.74},{"s":"J0046+0252 (L0 pec)","seg":2,"w":1.664,"f":0.735},{"s":"J0046+0252 (L0 pec)","seg":2,"w":1.67,"f":0.72},{"s":"J0046+0252 (L0 pec)","seg":2,"w":1.678,"f":0.74},{"s":"J0046+0252 (L0 pec)","seg":2,"w":1.686,"f":0.75},{"s":"J0046+0252 (L0 pec)","seg":2,"w":1.691,"f":0.74},{"s":"J0046+0252 (L0 pec)","seg":2,"w":1.696,"f":0.735},{"s":"J0046+0252 (L0 pec)","seg":2,"w":1.705,"f":0.72},{"s":"J0046+0252 (L0 pec)","seg":2,"w":1.715,"f":0.71},{"s":"J0046+0252 (L0 pec)","seg":2,"w":1.722,"f":0.68},{"s":"J0046+0252 (L0 pec)","seg":2,"w":1.73,"f":0.645},{"s":"J0046+0252 (L0 pec)","seg":2,"w":1.738,"f":0.62},{"s":"J0046+0252 (L0 pec)","seg":2,"w":1.746,"f":0.59},{"s":"J0046+0252 (L0 pec)","seg":2,"w":1.755,"f":0.565},{"s":"J0046+0252 (L0 pec)","seg":2,"w":1.763,"f":0.54},{"s":"J0046+0252 (L0 pec)","seg":2,"w":1.771,"f":0.52},{"s":"J0046+0252 (L0 pec)","seg":2,"w":1.779,"f":0.5},{"s":"J0046+0252 (L0 pec)","seg":2,"w":1.787,"f":0.49},{"s":"J0046+0252 (L0 pec)","seg":2,"w":1.793,"f":0.48},{"s":"J0046+0252 (L0 pec)","seg":2,"w":1.795,"f":0.41},
{"s":"J0046+0252 (L0 pec)","seg":3,"w":1.972,"f":0.4},{"s":"J0046+0252 (L0 pec)","seg":3,"w":1.978,"f":0.36},{"s":"J0046+0252 (L0 pec)","seg":3,"w":1.982,"f":0.33},{"s":"J0046+0252 (L0 pec)","seg":3,"w":1.986,"f":0.31},{"s":"J0046+0252 (L0 pec)","seg":3,"w":1.99,"f":0.34},{"s":"J0046+0252 (L0 pec)","seg":3,"w":1.994,"f":0.37},{"s":"J0046+0252 (L0 pec)","seg":3,"w":2.0,"f":0.355},{"s":"J0046+0252 (L0 pec)","seg":3,"w":2.005,"f":0.35},{"s":"J0046+0252 (L0 pec)","seg":3,"w":2.013,"f":0.355},{"s":"J0046+0252 (L0 pec)","seg":3,"w":2.021,"f":0.355},{"s":"J0046+0252 (L0 pec)","seg":3,"w":2.03,"f":0.35},{"s":"J0046+0252 (L0 pec)","seg":3,"w":2.043,"f":0.35},{"s":"J0046+0252 (L0 pec)","seg":3,"w":2.055,"f":0.355},{"s":"J0046+0252 (L0 pec)","seg":3,"w":2.066,"f":0.36},{"s":"J0046+0252 (L0 pec)","seg":3,"w":2.077,"f":0.36},{"s":"J0046+0252 (L0 pec)","seg":3,"w":2.09,"f":0.365},{"s":"J0046+0252 (L0 pec)","seg":3,"w":2.1,"f":0.37},{"s":"J0046+0252 (L0 pec)","seg":3,"w":2.11,"f":0.37},{"s":"J0046+0252 (L0 pec)","seg":3,"w":2.12,"f":0.37},{"s":"J0046+0252 (L0 pec)","seg":3,"w":2.13,"f":0.375},{"s":"J0046+0252 (L0 pec)","seg":3,"w":2.14,"f":0.375},{"s":"J0046+0252 (L0 pec)","seg":3,"w":2.15,"f":0.38},{"s":"J0046+0252 (L0 pec)","seg":3,"w":2.16,"f":0.385},{"s":"J0046+0252 (L0 pec)","seg":3,"w":2.17,"f":0.39},{"s":"J0046+0252 (L0 pec)","seg":3,"w":2.18,"f":0.38},{"s":"J0046+0252 (L0 pec)","seg":3,"w":2.188,"f":0.375},{"s":"J0046+0252 (L0 pec)","seg":3,"w":2.196,"f":0.37},{"s":"J0046+0252 (L0 pec)","seg":3,"w":2.206,"f":0.37},{"s":"J0046+0252 (L0 pec)","seg":3,"w":2.214,"f":0.365},{"s":"J0046+0252 (L0 pec)","seg":3,"w":2.222,"f":0.375},{"s":"J0046+0252 (L0 pec)","seg":3,"w":2.23,"f":0.37},{"s":"J0046+0252 (L0 pec)","seg":3,"w":2.238,"f":0.365},{"s":"J0046+0252 (L0 pec)","seg":3,"w":2.246,"f":0.37},{"s":"J0046+0252 (L0 pec)","seg":3,"w":2.255,"f":0.36},{"s":"J0046+0252 (L0 pec)","seg":3,"w":2.264,"f":0.355},{"s":"J0046+0252 (L0 pec)","seg":3,"w":2.271,"f":0.35},{"s":"J0046+0252 (L0 pec)","seg":3,"w":2.279,"f":0.355},{"s":"J0046+0252 (L0 pec)","seg":3,"w":2.287,"f":0.355},{"s":"J0046+0252 (L0 pec)","seg":3,"w":2.292,"f":0.33},{"s":"J0046+0252 (L0 pec)","seg":3,"w":2.295,"f":0.32},{"s":"J0046+0252 (L0 pec)","seg":3,"w":2.3,"f":0.3},{"s":"J0046+0252 (L0 pec)","seg":3,"w":2.305,"f":0.31},{"s":"J0046+0252 (L0 pec)","seg":3,"w":2.312,"f":0.31},{"s":"J0046+0252 (L0 pec)","seg":3,"w":2.319,"f":0.305},{"s":"J0046+0252 (L0 pec)","seg":3,"w":2.327,"f":0.29},{"s":"J0046+0252 (L0 pec)","seg":3,"w":2.335,"f":0.285},{"s":"J0046+0252 (L0 pec)","seg":3,"w":2.343,"f":0.295},{"s":"J0046+0252 (L0 pec)","seg":3,"w":2.351,"f":0.29},{"s":"J0046+0252 (L0 pec)","seg":3,"w":2.359,"f":0.275},{"s":"J0046+0252 (L0 pec)","seg":3,"w":2.367,"f":0.27},{"s":"J0046+0252 (L0 pec)","seg":3,"w":2.375,"f":0.275},{"s":"J0046+0252 (L0 pec)","seg":3,"w":2.383,"f":0.265},{"s":"J0046+0252 (L0 pec)","seg":3,"w":2.392,"f":0.25},{"s":"J0046+0252 (L0 pec)","seg":3,"w":2.4,"f":0.25},{"s":"J0046+0252 (L0 pec)","seg":3,"w":2.408,"f":0.24},{"s":"J0046+0252 (L0 pec)","seg":3,"w":2.415,"f":0.23}
]},
"data":{"name":"spec"},
"layer":[
{"encoding":{
  "x":{"field":"w","type":"quantitative","scale":{"domain":[0.845,2.478],"nice":false,"zero":false},
   "axis":{"orient":"bottom","values":[0.9,1.0,1.1,1.2,1.3,1.4,1.5,1.6,1.7,1.8,1.9,2.0,2.1,2.2,2.3,2.4],
    "labelExpr":"abs(datum.value*2-round(datum.value*2))<0.001 ? format(datum.value,'.1f') : ''",
    "tickSize":{"condition":{"test":"abs(datum.value*2-round(datum.value*2))<0.001","value":-7},"value":-3},
    "labelPadding":12,"title":"Wavelength (μm)","titlePadding":3,"labelFlush":false}},
  "y":{"field":"f","type":"quantitative","scale":{"domain":[0.105,1.18],"nice":false,"zero":false},
   "axis":{"orient":"left","values":[0.15,0.2,0.25,0.3,0.35,0.4,0.45,0.5,0.55,0.6,0.65,0.7,0.75,0.8,0.85,0.9,0.95,1.0,1.05,1.1,1.15],
    "labelExpr":"abs(datum.value*5-round(datum.value*5))<0.001 ? format(datum.value,'.1f') : ''",
    "tickSize":{"condition":{"test":"abs(datum.value*5-round(datum.value*5))<0.001","value":-7},"value":-3},
    "labelPadding":13,"title":"Normalized Fλ","titlePadding":12,"labelFlush":false}},
  "color":{"field":"s","type":"nominal","scale":{"domain":["J0046+0252 (L0 pec)","2MASS J0032-4405 (L0 γ)","HD 89744 B (field L0)","2MASS J1731+2721 (field L0)","LP 944-20 (field L0)"],"range":["#000000","#ff8a64","#ff3399","#00e890","#9a50f5"]},
   "legend":{"title":null,"orient":"none","legendX":200,"legendY":8,"symbolType":"stroke","symbolSize":100,"symbolStrokeWidth":1,"labelFontSize":8,"labelColor":"#222222","rowPadding":6,"labelOffset":3,"padding":0}},
  "detail":{"field":"seg"}
 },
 "layer":[
  {"transform":[{"filter":"datum.s != 'J0046+0252 (L0 pec)' && datum.s != '2MASS J1731+2721 (field L0)'"}],
   "mark":{"type":"line","clip":true,"strokeWidth":0.9,"strokeJoin":"round"}},
  {"transform":[{"filter":"datum.s == '2MASS J1731+2721 (field L0)'"}],
   "mark":{"type":"line","clip":true,"strokeWidth":1.3,"strokeJoin":"round"}},
  {"transform":[{"filter":"datum.s == 'J0046+0252 (L0 pec)'"}],
   "mark":{"type":"line","clip":true,"strokeWidth":2,"strokeJoin":"round"}}
 ],
 "resolve":{"axis":{"x":"shared","y":"shared"}}
},
{"mark":{"type":"point","opacity":0},
 "encoding":{
  "x":{"field":"w","type":"quantitative","axis":{"orient":"top","values":[0.9,1.0,1.1,1.2,1.3,1.4,1.5,1.6,1.7,1.8,1.9,2.0,2.1,2.2,2.3,2.4],"labels":false,"title":null,
    "tickSize":{"condition":{"test":"abs(datum.value*2-round(datum.value*2))<0.001","value":-7},"value":-3}}},
  "y":{"field":"f","type":"quantitative","axis":{"orient":"right","values":[0.15,0.2,0.25,0.3,0.35,0.4,0.45,0.5,0.55,0.6,0.65,0.7,0.75,0.8,0.85,0.9,0.95,1.0,1.05,1.1,1.15],"labels":false,"title":null,
    "tickSize":{"condition":{"test":"abs(datum.value*5-round(datum.value*5))<0.001","value":-7},"value":-3}}},
  "color":{"value":"black"}
 }}
],
"resolve":{"axis":{"x":"independent","y":"independent"}}
}
